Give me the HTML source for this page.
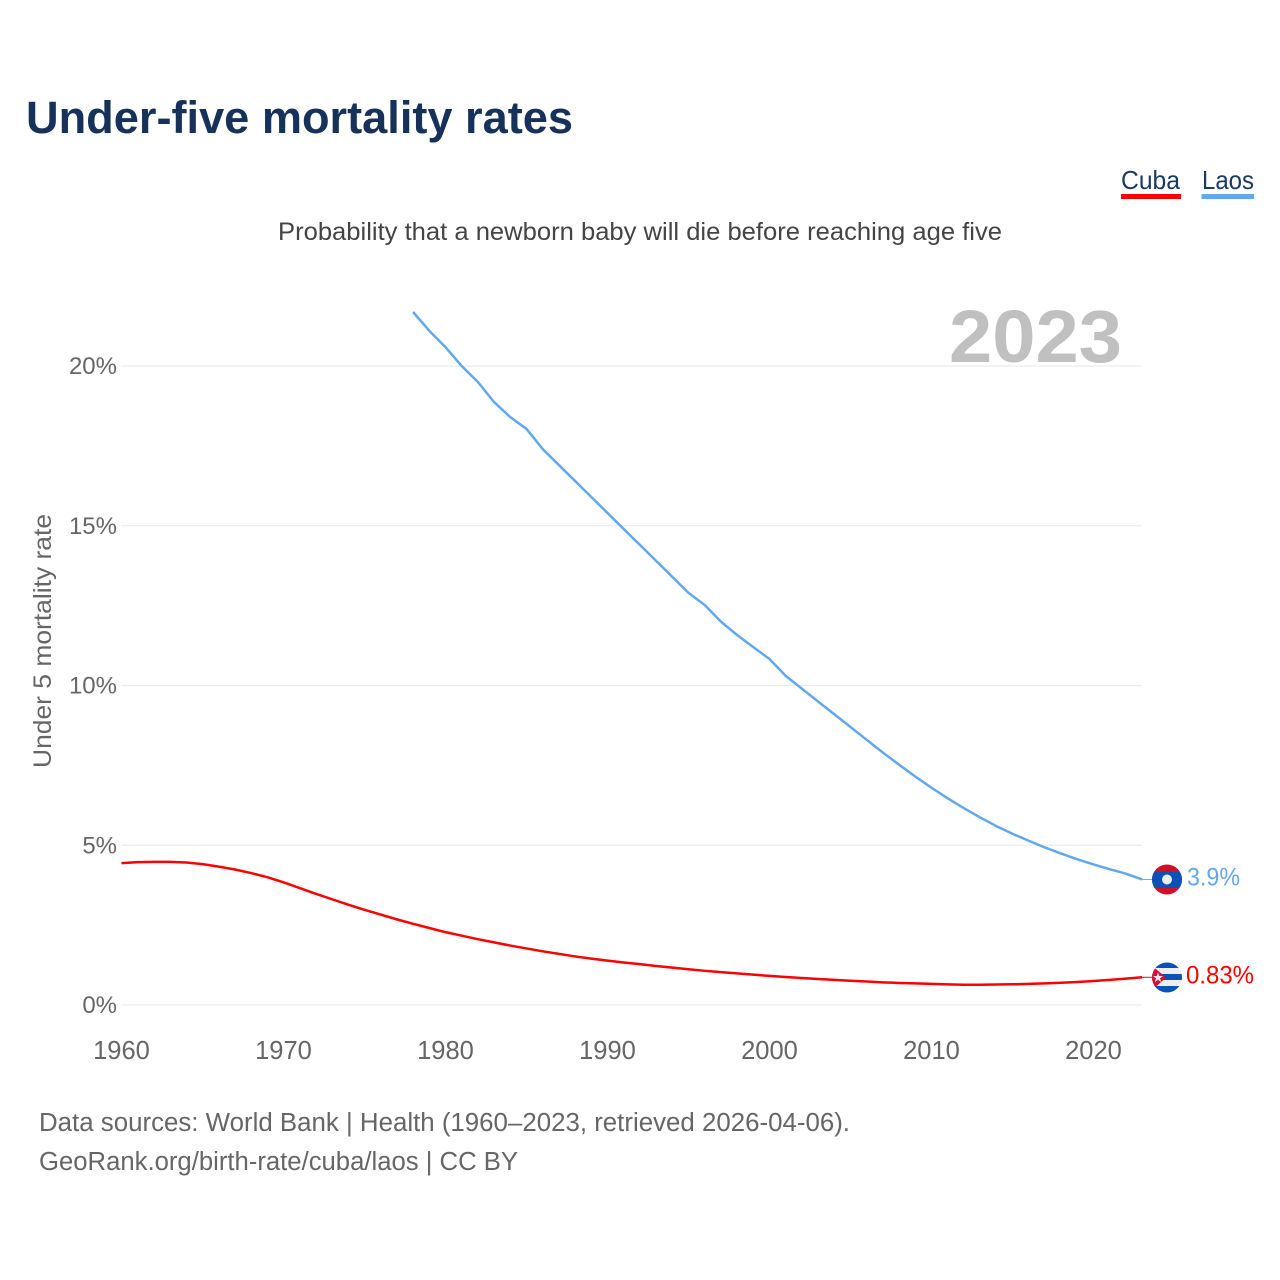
<!DOCTYPE html>
<html lang="en">
<head>
<meta charset="utf-8">
<title>Under-five mortality rates</title>
<style>
html,body{margin:0;padding:0;background:#fff;}
svg{display:block;font-family:"Liberation Sans",sans-serif;}
</style>
</head>
<body>
<svg id="chart" xmlns="http://www.w3.org/2000/svg" width="1280" height="1280" viewBox="0 0 1280 1280">
  <defs>
    <clipPath id="flag-clip-laos"><circle cx="1167" cy="879.5" r="15"/></clipPath>
    <clipPath id="flag-clip-cuba"><circle cx="1167" cy="977.5" r="15"/></clipPath>
  </defs>
  <rect width="1280" height="1280" fill="#fff"/>
  <text x="26" y="133" font-size="45" font-weight="700" fill="#17325a" textLength="547" lengthAdjust="spacingAndGlyphs">Under-five mortality rates</text>
  <text x="1121" y="189" font-size="26" fill="#1a3a63" textLength="59" lengthAdjust="spacingAndGlyphs">Cuba</text>
  <rect x="1121" y="194" width="60" height="5" fill="#ff0000"/>
  <text x="1202" y="189" font-size="26" fill="#1a3a63" textLength="52" lengthAdjust="spacingAndGlyphs">Laos</text>
  <rect x="1201.5" y="194" width="52.5" height="5" fill="#62a8ee"/>
  <text x="278" y="240" font-size="25" fill="#444444" textLength="724" lengthAdjust="spacingAndGlyphs">Probability that a newborn baby will die before reaching age five</text>
  <g id="grid"></g>
  <text x="949" y="362" font-size="74" font-weight="700" fill="#c0c0c0" textLength="173" lengthAdjust="spacingAndGlyphs">2023</text>
  <g id="y-ticks"></g>
  <g id="x-ticks"></g>
  <text transform="translate(51,641) rotate(-90)" text-anchor="middle" font-size="25" fill="#666666" textLength="254" lengthAdjust="spacingAndGlyphs">Under 5 mortality rate</text>
  <path id="line-laos" fill="none" stroke="#62a8ee" stroke-width="2.5" stroke-linejoin="round"/>
  <path id="line-cuba" fill="none" stroke="#ff0000" stroke-width="2.5" stroke-linejoin="round"/>
  <line id="leader-laos" x1="1141" x2="1153" stroke="#62a8ee" stroke-width="1"/>
  <line id="leader-cuba" x1="1141" x2="1153" stroke="#ff0000" stroke-width="1"/>
  <g clip-path="url(#flag-clip-laos)">
    <rect x="1150" y="863" width="34" height="33" fill="#ce1126"/>
    <rect x="1150" y="872" width="34" height="16" fill="#0a52b5"/>
    <circle cx="1167" cy="879.5" r="5" fill="#eeeeee"/>
  </g>
  <g clip-path="url(#flag-clip-cuba)">
    <rect x="1150" y="961" width="34" height="33" fill="#eeeeee"/>
    <rect x="1150" y="961" width="34" height="7" fill="#0a52b5"/>
    <rect x="1150" y="974" width="34" height="6" fill="#0a52b5"/>
    <rect x="1150" y="986" width="34" height="8" fill="#0a52b5"/>
    <polygon points="1150,964 1166,977.5 1150,992" fill="#d2103a"/>
    <polygon points="1158,972.5 1159.3,976 1163,976 1160,978.3 1161.2,982 1158,979.8 1154.8,982 1156,978.3 1153,976 1156.7,976" fill="#eeeeee"/>
  </g>
  <text x="1187" y="885.5" font-size="25" fill="#62a8ee" textLength="53" lengthAdjust="spacingAndGlyphs">3.9%</text>
  <text x="1186" y="983.5" font-size="25" fill="#ff0000" textLength="68" lengthAdjust="spacingAndGlyphs">0.83%</text>
  <text x="39" y="1131" font-size="25.5" fill="#666666" textLength="811" lengthAdjust="spacingAndGlyphs">Data sources: World Bank | Health (1960–2023, retrieved 2026-04-06).</text>
  <text x="39" y="1170" font-size="25.5" fill="#666666" textLength="479" lengthAdjust="spacingAndGlyphs">GeoRank.org/birth-rate/cuba/laos | CC BY</text>
</svg>
<script>
const yTickValues = [0, 5, 10, 15, 20];
const yTickLabels = ["0%", "5%", "10%", "15%", "20%"];
const xTickYears = [1960, 1970, 1980, 1990, 2000, 2010, 2020];
const cubaStartYear = 1960;
const cubaValues = [4.44,4.47,4.48,4.48,4.46,4.41,4.33,4.24,4.13,4.0,3.84,3.66,3.48,3.31,3.14,2.98,2.83,2.68,2.54,2.41,2.28,2.17,2.06,1.96,1.86,1.77,1.68,1.60,1.52,1.45,1.39,1.33,1.28,1.22,1.17,1.12,1.07,1.03,0.99,0.95,0.91,0.875,0.845,0.815,0.785,0.76,0.735,0.71,0.69,0.675,0.66,0.645,0.635,0.635,0.64,0.648,0.66,0.675,0.695,0.72,0.75,0.785,0.825,0.867];
const laosStartYear = 1978;
const laosValues = [21.69,21.10,20.59,20.0,19.5,18.87,18.4,18.03,17.4,16.9,16.4,15.9,15.4,14.9,14.4,13.9,13.4,12.9,12.52,12.0,11.58,11.2,10.83,10.3,9.9,9.5,9.1,8.7,8.3,7.9,7.52,7.15,6.8,6.47,6.16,5.87,5.6,5.36,5.14,4.93,4.74,4.56,4.4,4.25,4.11,3.93];

const NS = "http://www.w3.org/2000/svg";
function xScale(year) { return 121.5 + (year - 1960) * 16.2; }
function yScale(v) { return 1005 - v * 31.95; }
function linePath(startYear, values) {
  return values.map(function (v, i) {
    return (i ? "L" : "M") + xScale(startYear + i).toFixed(2) + " " + yScale(v).toFixed(2);
  }).join(" ");
}

const gridGroup = document.getElementById("grid");
const yTickGroup = document.getElementById("y-ticks");
const xTickGroup = document.getElementById("x-ticks");

yTickValues.forEach(function (v, i) {
  const gl = document.createElementNS(NS, "line");
  
  
  gl.setAttribute("x1", 121);
  gl.setAttribute("x2", 1141.5);
  gl.setAttribute("y1", yScale(v));
  gl.setAttribute("y2", yScale(v));
  gl.setAttribute("stroke", "#ececec");
  gl.setAttribute("stroke-width", "1.3");
  gridGroup.appendChild(gl);

  const t = document.createElementNS(NS, "text");
  
  
  t.setAttribute("x", 117);
  t.setAttribute("y", yScale(v) + 8);
  t.setAttribute("text-anchor", "end");
  t.setAttribute("font-size", "24");
  t.setAttribute("fill", "#666666");
  t.textContent = yTickLabels[i];
  yTickGroup.appendChild(t);
});

xTickYears.forEach(function (yr) {
  const t = document.createElementNS(NS, "text");
  
  
  t.setAttribute("x", xScale(yr));
  t.setAttribute("y", 1059);
  t.setAttribute("text-anchor", "middle");
  t.setAttribute("font-size", "25.5");
  t.setAttribute("fill", "#666666");
  t.textContent = String(yr);
  xTickGroup.appendChild(t);
});

document.getElementById("line-cuba").setAttribute("d", linePath(cubaStartYear, cubaValues));
document.getElementById("line-laos").setAttribute("d", linePath(laosStartYear, laosValues));

const cubaEnd = yScale(cubaValues[cubaValues.length - 1]);
const laosEnd = yScale(laosValues[laosValues.length - 1]);
const leaderCuba = document.getElementById("leader-cuba");
leaderCuba.setAttribute("y1", cubaEnd);
leaderCuba.setAttribute("y2", cubaEnd);
const leaderLaos = document.getElementById("leader-laos");
leaderLaos.setAttribute("y1", laosEnd);
leaderLaos.setAttribute("y2", laosEnd);
</script>
</body>
</html>
